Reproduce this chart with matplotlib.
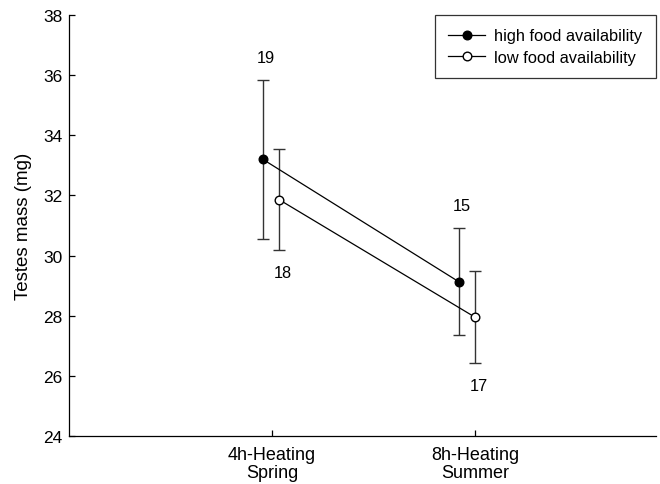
import numpy as np
import matplotlib
matplotlib.use("Agg")
import matplotlib.pyplot as plt

plt.rcParams['font.family'] = ['Liberation Sans', 'DejaVu Sans']
plt.rcParams['font.size'] = 12.5

# season groups
groups = ['4h-Heating\nSpring', '8h-Heating\nSummer']

# mean testes mass (mg) and error bar half-width
high_mean = [33.2, 29.13]
high_err = [2.65, 1.78]
low_mean = [31.86, 27.95]
low_err = [1.69, 1.53]

# sample sizes
high_n = ['19', '15']
low_n = ['18', '17']

# small horizontal shifts so the bars don't overlap
high_shift = [-0.045, -0.08]
low_shift = [0.035, 0.0]

xpos = np.arange(1, len(groups) + 1)
xh = xpos + np.array(high_shift)
xl = xpos + np.array(low_shift)

fig = plt.figure(figsize=(6.6, 4.85), dpi=100)
ax = fig.add_axes([0.1045, 0.099, 0.889, 0.868])

ebkw = dict(ecolor='#333333', elinewidth=1.0, capsize=4.5, capthick=1.0, zorder=2)
ax.errorbar(xh, high_mean, yerr=high_err, fmt='none', **ebkw)
ax.errorbar(xl, low_mean, yerr=low_err, fmt='none', **ebkw)
ax.plot(xh, high_mean, '-o', color='black', lw=0.9, ms=6.2,
        mfc='black', mec='black', label='high food availability', zorder=3)
ax.plot(xl, low_mean, '-o', color='black', lw=0.9, ms=6.2,
        mfc='white', mec='black', mew=1.0, label='low food availability', zorder=3)

# n labels above / below the bars
for x, m, e, n in zip(xh, high_mean, high_err, high_n):
    ax.annotate(n, (x, m + e), xytext=(2, 12.8), textcoords='offset points',
                ha='center', va='baseline', fontsize=11.8)
for x, m, e, n in zip(xl, low_mean, low_err, low_n):
    ax.annotate(n, (x, m - e), xytext=(3, -19.3), textcoords='offset points',
                ha='center', va='baseline', fontsize=11.8)

ax.set_xlim(0.0, 2.89)
ax.set_ylim(24, 38)
ax.set_xticks(xpos)
ax.set_xticklabels(groups, linespacing=1.1, fontsize=13)
ax.set_yticks(np.arange(24, 39, 2))
ax.set_ylabel('Testes mass (mg)', fontsize=13.5, labelpad=8)

for s in ['top', 'right']:
    ax.spines[s].set_visible(False)
for s in ['left', 'bottom']:
    ax.spines[s].set_linewidth(0.9)
ax.tick_params(axis='both', direction='in', length=4.5, width=0.9, colors='black')
ax.tick_params(axis='y', pad=4.5)
ax.tick_params(axis='x', pad=7)

leg = ax.legend(loc='upper right', bbox_to_anchor=(1.0, 1.0), borderaxespad=0.0,
                frameon=True, fancybox=False, edgecolor='black', fontsize=11.8,
                handlelength=2.26, handletextpad=0.55, labelspacing=0.4,
                borderpad=0.82)
leg.get_frame().set_linewidth(0.9)

fig.savefig('out.png', dpi=100)
